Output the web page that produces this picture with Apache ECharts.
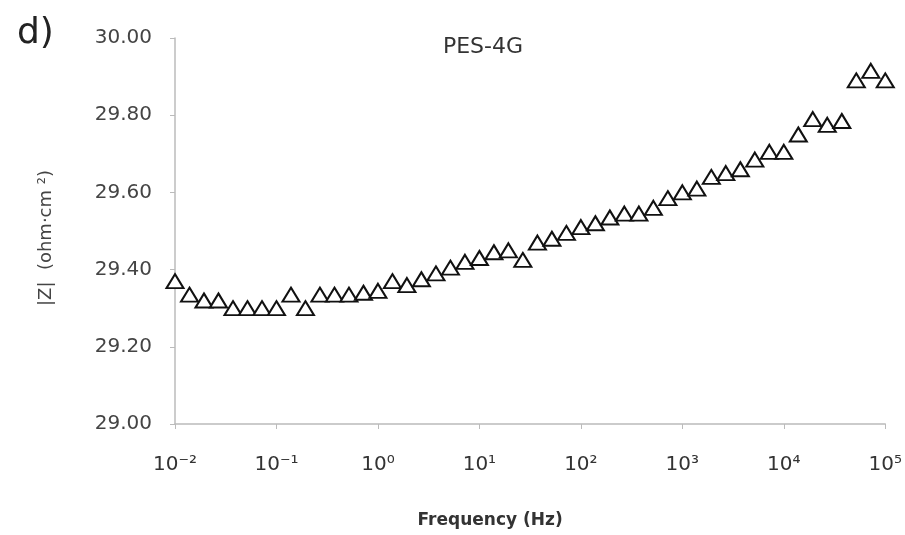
<!DOCTYPE html>
<html>
<head>
<meta charset="utf-8">
<script src="https://cdn.jsdelivr.net/npm/echarts@6/dist/echarts.min.js"></script>
<style>
html,body{margin:0;padding:0;background:#fff;}
#chart{width:905px;height:535px;}
</style>
</head>
<body>
<div id="chart"></div>
<script>
// Frequency (Hz)
var frequencies = [
  0.01, 0.0139, 0.0193, 0.0268, 0.0373, 0.0518, 0.072,
  0.1, 0.139, 0.193, 0.268, 0.373, 0.518, 0.72,
  1, 1.39, 1.93, 2.68, 3.73, 5.18, 7.2,
  10, 13.9, 19.3, 26.8, 37.3, 51.8, 72,
  100, 139, 193, 268, 373, 518, 720,
  1000, 1390, 1930, 2680, 3730, 5180, 7200,
  10000, 13900, 19300, 26800, 37300, 51800, 72000,
  100000
];
// |Z| (ohm·cm²)
var impedance = [
  29.37, 29.335, 29.32, 29.32, 29.30, 29.30, 29.30,
  29.30, 29.335, 29.30, 29.335, 29.335, 29.335, 29.34,
  29.345, 29.37, 29.36, 29.375, 29.39, 29.405, 29.42,
  29.43, 29.445, 29.45, 29.425, 29.47, 29.48, 29.495,
  29.51, 29.52, 29.535, 29.545, 29.545, 29.56, 29.585,
  29.60, 29.61, 29.64, 29.65, 29.66, 29.685, 29.705,
  29.705, 29.75, 29.79, 29.775, 29.785, 29.89, 29.915,
  29.89
];
var xTickLabels = ['10⁻²','10⁻¹','10⁰','10¹','10²','10³','10⁴','10⁵'];
var xTickValues = [0.01, 0.1, 1, 10, 100, 1000, 10000, 100000];
var yTickLabels = ['29.00','29.20','29.40','29.60','29.80','30.00'];

var pts = frequencies.map(function(f, i){ return [f, impedance[i]]; });

var chart = echarts.init(document.getElementById('chart'), null, {renderer:'canvas'});
var fontFam = '"DejaVu Sans", "Liberation Sans", sans-serif';
chart.setOption({
  backgroundColor: '#fff',
  animation: false,
  title: [
    {text: 'd)', left: 12, top: 11, textStyle:{fontSize: 36, fontWeight:'normal', color:'#222', fontFamily: fontFam}},
    {text: 'PES-4G', left: 478, top: 31, textAlign:'center', textStyle:{fontSize: 22, fontWeight:'normal', color:'#333', fontFamily: fontFam}}
  ],
  grid: {left: 175, right: 18, top: 38, bottom: 111, containLabel: false},
  xAxis: {
    type: 'log', logBase: 10, min: 0.01, max: 100000,
    name: 'Frequency (Hz)', nameLocation: 'middle', nameGap: 88,
    nameTextStyle: {fontSize: 17, fontWeight: 'bold', color: '#333', fontFamily: fontFam, padding: [0, 80, 0, 0]},
    axisLine: {lineStyle: {color: '#bbb', width: 1.5}},
    axisTick: {show: true, inside: false, length: 5, lineStyle:{color:'#bbb'}},
    splitLine: {show: false},
    axisLabel: {
      margin: 31, fontSize: 20, color: '#333', fontFamily: fontFam,
      formatter: function(v){
        for (var i=0;i<xTickValues.length;i++){ if (Math.abs(Math.log10(v)-Math.log10(xTickValues[i]))<1e-6) return xTickLabels[i]; }
        return '';
      }
    }
  },
  yAxis: {
    type: 'value', min: 29, max: 30, interval: 0.2,
    name: '|Z|  (ohm·cm ²)', nameLocation: 'middle', nameGap: 120, nameRotate: 90,
    nameTextStyle: {fontSize: 18, fontWeight: 'normal', color: '#444', fontFamily: fontFam, padding: [0, 14, 0, 0]},
    axisLine: {show: true, lineStyle: {color: '#bbb', width: 1.5}},
    axisTick: {show: true, inside: false, length: 5, lineStyle:{color:'#bbb'}},
    splitLine: {show: false},
    axisLabel: {
      margin: 23, fontSize: 20, color: '#444', fontFamily: fontFam,
      formatter: function(v){ var idx = Math.round((v-29)/0.2); return yTickLabels[idx] || ''; }
    }
  },
  series: [{
    type: 'scatter',
    data: pts,
    symbol: 'triangle',
    symbolSize: [17, 14],
    itemStyle: {color: '#fff', borderColor: '#111', borderWidth: 2, opacity: 1}
  }]
});
</script>
</body>
</html>
